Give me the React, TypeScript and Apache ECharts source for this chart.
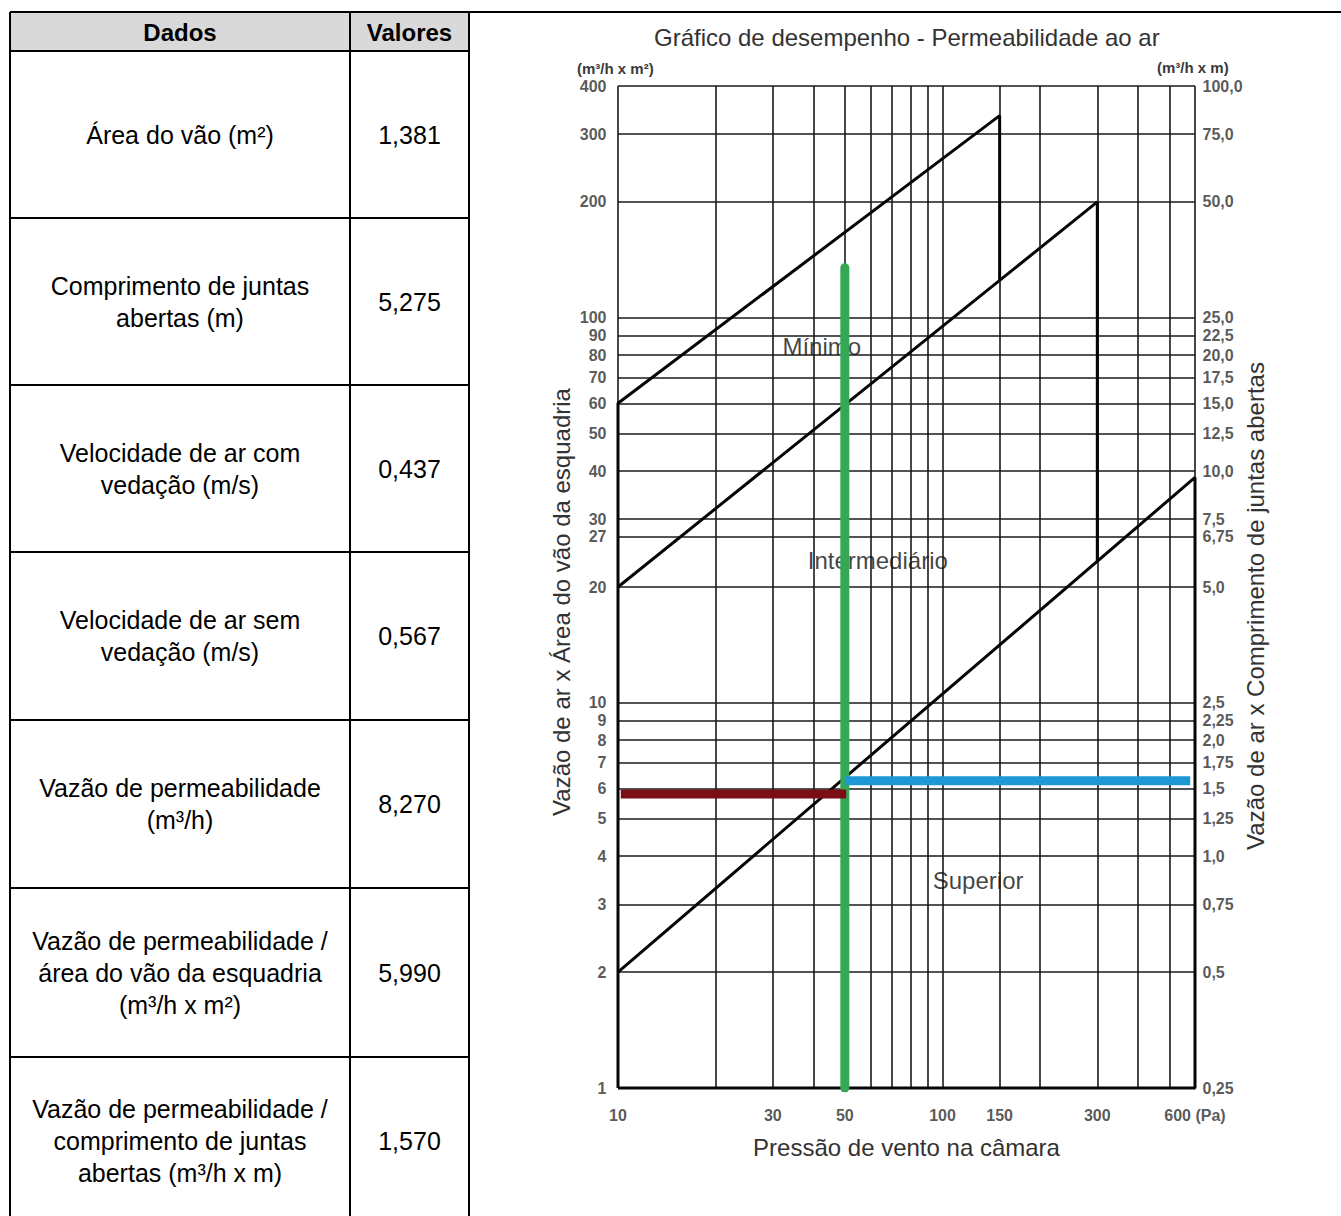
import { useEffect, useRef } from 'react';
import * as echarts from 'echarts';

const FONT = '"Liberation Sans", Arial, Helvetica, sans-serif';

// ---------- table data ----------
const tableHeaders = ['Dados', 'Valores'];
const tableLabels = [
  'Área do vão (m²)',
  'Comprimento de juntas\nabertas (m)',
  'Velocidade de ar com\nvedação (m/s)',
  'Velocidade de ar sem\nvedação (m/s)',
  'Vazão de permeabilidade\n(m³/h)',
  'Vazão de permeabilidade /\nárea do vão da esquadria\n(m³/h x m²)',
  'Vazão de permeabilidade /\ncomprimento de juntas\nabertas (m³/h x m)',
];
const tableValues = ['1,381', '5,275', '0,437', '0,567', '8,270', '5,990', '1,570'];

// ---------- chart axes ----------
const chartTitle = 'Gráfico de desempenho - Permeabilidade ao ar';
const xAxisName = 'Pressão de vento na câmara';
const yLeftName = 'Vazão de ar x Área do vão da esquadria';
const yRightName = 'Vazão de ar x Comprimento de juntas abertas';
const yLeftUnit = '(m³/h x m²)';
const yRightUnit = '(m³/h x m)';

const xTickValues = [10, 30, 50, 100, 150, 300, 600];
const xTickLabels = ['10', '30', '50', '100', '150', '300', '600 (Pa)'];
const xGridValues = [10, 20, 30, 40, 50, 60, 70, 80, 90, 100, 150, 200, 300, 400, 500, 600];

const yLeftTicks = [1, 2, 3, 4, 5, 6, 7, 8, 9, 10, 20, 27, 30, 40, 50, 60, 70, 80, 90, 100, 200, 300, 400];
const yLeftTickLabels = yLeftTicks.map(String);
const yRightTicks = [0.25, 0.5, 0.75, 1, 1.25, 1.5, 1.75, 2, 2.25, 2.5, 5, 6.75, 7.5, 10, 12.5, 15, 17.5, 20, 22.5, 25, 50, 75, 100];
const yRightTickLabels = ['0,25', '0,5', '0,75', '1,0', '1,25', '1,5', '1,75', '2,0', '2,25', '2,5', '5,0', '6,75', '7,5', '10,0', '12,5', '15,0', '17,5', '20,0', '22,5', '25,0', '50,0', '75,0', '100,0'];

// ---------- classification boundaries (pressure Pa, flow m³/h x m²) ----------
const minimoBoundary = [[10, 1], [10, 60], [150, 335], [150, 125]];
const intermediarioBoundary = [[10, 20], [300, 200], [300, 23.3]];
const superiorBoundary = [[10, 2], [600, 38.5], [600, 1], [10, 1]];

// ---------- measurement lines ----------
const pressureLine = [[50, 1], [50, 135]];          // green, left axis
const areaFlowLine = [[10.2, 5.8], [50.5, 5.8]];     // dark red, left axis
const jointFlowLine = [[50, 1.57], [580, 1.57]];     // blue, right axis

// ---------- region labels ----------
const regionNames = ['Mínimo', 'Intermediário', 'Superior'];
const regionX = [32, 38.3, 93];
const regionY = [84, 23.5, 3.45];

export default function App() {
  const ref = useRef<HTMLDivElement>(null);

  useEffect(() => {
    const chart = echarts.init(ref.current!, null, { renderer: 'svg' });

    const rowBounds = [12, 51, 218, 385, 552, 720, 888, 1057, 1224];
    const colX = [10, 350, 469];
    const tableGraphics: any[] = [];
    tableGraphics.push({
      type: 'rect',
      shape: { x: colX[0], y: rowBounds[0], width: colX[2] - colX[0], height: rowBounds[1] - rowBounds[0] },
      style: { fill: '#d9d9d9' },
    });
    for (let i = 0; i < rowBounds.length - 1; i++) {
      tableGraphics.push({
        type: 'line',
        shape: { x1: colX[0], y1: rowBounds[i], x2: i === 0 ? 1341 : colX[2], y2: rowBounds[i] },
        style: { stroke: '#000', lineWidth: 2 },
      });
    }
    colX.forEach((x) => {
      tableGraphics.push({
        type: 'line',
        shape: { x1: x, y1: rowBounds[0], x2: x, y2: 1216 },
        style: { stroke: '#000', lineWidth: 2 },
      });
    });
    const c1 = (colX[0] + colX[1]) / 2;
    const c2 = (colX[1] + colX[2]) / 2;
    const hy = (rowBounds[0] + rowBounds[1]) / 2;
    [c1, c2].forEach((cx, k) => {
      tableGraphics.push({
        type: 'text', x: cx, y: hy + 1,
        style: { text: tableHeaders[k], fontSize: 24, fontWeight: 'bold', fontFamily: FONT, fill: '#000', textAlign: 'center', textVerticalAlign: 'middle' },
      });
    });
    tableLabels.forEach((lab, i) => {
      const cy = (rowBounds[i + 1] + rowBounds[i + 2]) / 2;
      tableGraphics.push({
        type: 'text', x: c1, y: cy,
        style: { text: lab, fontSize: 25, fontFamily: FONT, fill: '#000', textAlign: 'center', textVerticalAlign: 'middle', lineHeight: 32 },
      });
      tableGraphics.push({
        type: 'text', x: c2, y: cy,
        style: { text: tableValues[i], fontSize: 25, fontFamily: FONT, fill: '#000', textAlign: 'center', textVerticalAlign: 'middle' },
      });
    });

    const axisTextGraphics = [
      {
        type: 'text', x: 561, y: 602, rotation: Math.PI / 2,
        style: { text: yLeftName, fontSize: 24, fontFamily: FONT, fill: '#333', textAlign: 'center', textVerticalAlign: 'middle' },
      },
      {
        type: 'text', x: 1255, y: 606, rotation: Math.PI / 2,
        style: { text: yRightName, fontSize: 24, fontFamily: FONT, fill: '#333', textAlign: 'center', textVerticalAlign: 'middle' },
      },
      {
        type: 'text', x: 577, y: 68,
        style: { text: yLeftUnit, fontSize: 15, fontWeight: 'bold', fontFamily: FONT, fill: '#3a3a3a', textAlign: 'left', textVerticalAlign: 'middle' },
      },
      {
        type: 'text', x: 1157, y: 67,
        style: { text: yRightUnit, fontSize: 15, fontWeight: 'bold', fontFamily: FONT, fill: '#3a3a3a', textAlign: 'left', textVerticalAlign: 'middle' },
      },
    ];

    const tickLabelStyle = { fontSize: 16, fontWeight: 'bold', fontFamily: FONT, color: '#2e2e2e' };
    const hiddenAxis = {
      axisLine: { show: false }, axisTick: { show: false }, axisLabel: { show: false },
      splitLine: { show: false }, minorTick: { show: false }, minorSplitLine: { show: false },
    };
    const boundaryStyle = { color: '#050505', width: 3 };

    const option: any = {
      animation: false,
      backgroundColor: '#fff',
      textStyle: { fontFamily: FONT },
      title: {
        text: chartTitle, left: 654, top: 25, padding: 0,
        textStyle: { fontSize: 24, fontWeight: 'normal', color: '#333', fontFamily: FONT },
      },
      graphic: [...tableGraphics, ...axisTextGraphics],
      grid: { left: 618, top: 86, width: 577, height: 1002 },
      xAxis: {
        type: 'log', logBase: 10, min: 10, max: 600, ...hiddenAxis,
        name: xAxisName, nameLocation: 'middle', nameGap: 47,
        nameTextStyle: { fontSize: 24, color: '#333', fontFamily: FONT },
      },
      yAxis: [
        { type: 'log', logBase: 10, min: 1, max: 400, position: 'left', ...hiddenAxis },
        { type: 'log', logBase: 10, min: 0.25, max: 100, position: 'right', ...hiddenAxis },
      ],
      series: [
        {
          type: 'line', name: 'grid', data: [[10, 1]], symbol: 'none', silent: true, z: 1,
          markLine: {
            z: 1, silent: true, symbol: ['none', 'none'], label: { show: false },
            lineStyle: { type: 'solid', color: '#1a1a1a', width: 1.6 },
            emphasis: { disabled: true },
            data: [
              ...xGridValues.map((v) => ({ xAxis: v })),
              ...yLeftTicks.filter((v) => v > 1).map((v) => ({ yAxis: v })),
            ],
          },
        },
        {
          type: 'scatter', name: 'xLabels', data: xTickValues.map((v) => [v, 1]),
          symbolSize: 1, itemStyle: { color: 'transparent' }, silent: true, clip: false, z: 2,
          label: { show: true, position: 'bottom', distance: 19, ...tickLabelStyle, formatter: (p: any) => xTickLabels[p.dataIndex] },
        },
        {
          type: 'scatter', name: 'yLeftLabels', data: yLeftTicks.map((v) => [10, v]),
          symbolSize: 1, itemStyle: { color: 'transparent' }, silent: true, clip: false, z: 2,
          label: { show: true, position: 'left', distance: 11, ...tickLabelStyle, formatter: (p: any) => yLeftTickLabels[p.dataIndex] },
        },
        {
          type: 'scatter', name: 'yRightLabels', yAxisIndex: 1, data: yRightTicks.map((v) => [600, v]),
          symbolSize: 1, itemStyle: { color: 'transparent' }, silent: true, clip: false, z: 2,
          label: { show: true, position: 'right', distance: 7, ...tickLabelStyle, formatter: (p: any) => yRightTickLabels[p.dataIndex] },
        },
        { type: 'line', name: 'Mínimo', data: minimoBoundary, symbol: 'none', clip: false, lineStyle: boundaryStyle, z: 3, silent: true },
        { type: 'line', name: 'Intermediário', data: intermediarioBoundary, symbol: 'none', clip: false, lineStyle: boundaryStyle, z: 3, silent: true },
        { type: 'line', name: 'Superior', data: superiorBoundary, symbol: 'none', clip: false, lineStyle: boundaryStyle, z: 3, silent: true },
        {
          type: 'scatter', name: 'regions', data: regionNames.map((n, i) => ({ name: n, value: [regionX[i], regionY[i]] })),
          symbolSize: 1, itemStyle: { color: 'transparent' }, silent: true, clip: false, z: 3,
          label: { show: true, position: 'right', distance: 0, fontSize: 24, color: '#111', fontFamily: FONT, formatter: (p: any) => p.name },
        },
        {
          type: 'line', name: 'pressure', data: pressureLine, symbol: 'none', clip: true, z: 4, silent: true,
          lineStyle: { color: '#34a853', width: 9, cap: 'round' },
        },
        {
          type: 'line', name: 'areaFlow', data: areaFlowLine, symbol: 'none', clip: false, z: 5, silent: true,
          lineStyle: { color: '#7b0d14', width: 9 },
        },
        {
          type: 'line', name: 'jointFlow', yAxisIndex: 1, data: jointFlowLine, symbol: 'none', clip: false, z: 5, silent: true,
          lineStyle: { color: '#1f97d4', width: 9 },
        },
      ],
    };

    chart.setOption(option);
    return () => chart.dispose();
  }, []);

  return (
    <div
      ref={ref}
      style={{ position: 'absolute', left: 0, top: 0, width: 1341, height: 1216, background: '#fff' }}
    />
  );
}
